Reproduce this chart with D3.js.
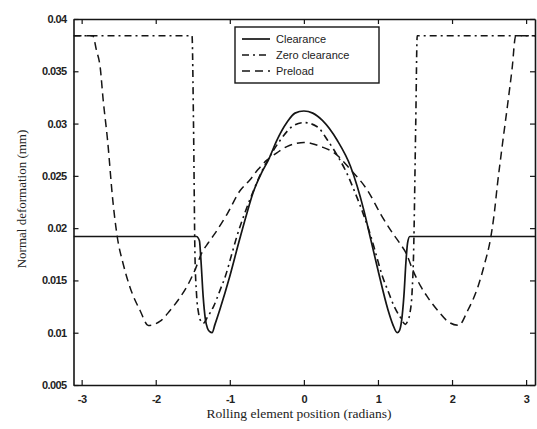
<!DOCTYPE html>
<html>
<head>
<meta charset="utf-8">
<script src="https://cdn.jsdelivr.net/npm/d3@7"></script>
<style>
  body { margin: 0; background: #fff; }
  svg { display: block; }
</style>
</head>
<body>
<div id="chart"></div>
<script>
// tick values and labels
const xTicks = [-3, -2, -1, 0, 1, 2, 3];
const xTickLabels = ["-3", "-2", "-1", "0", "1", "2", "3"];
const yTicks = [0.005, 0.01, 0.015, 0.02, 0.025, 0.03, 0.035, 0.04];
const yTickLabels = ["0.005", "0.01", "0.015", "0.02", "0.025", "0.03", "0.035", "0.04"];

// Clearance (solid)
const clearanceX = [-3.11, -1.45, -1.41, -1.39, -1.36, -1.33, -1.30, -1.27, -1.24, -1.20, -1.135, -1.0, -0.88, -0.77, -0.685, -0.57, -0.48, -0.365, -0.23, -0.12, 0,
  0.12, 0.25, 0.45, 0.63, 0.81, 0.90, 1.0, 1.135, 1.20, 1.26, 1.29, 1.32, 1.35, 1.38, 1.40, 1.43, 3.12];
const clearanceY = [0.0192, 0.0192, 0.0188, 0.0170, 0.0135, 0.0113, 0.0104, 0.0101, 0.0100, 0.0108, 0.0122, 0.0154, 0.0186, 0.0214, 0.0234, 0.0253, 0.0265, 0.0284, 0.0301, 0.0310, 0.0312,
  0.0310, 0.0303, 0.0284, 0.0259, 0.0217, 0.0190, 0.0160, 0.0122, 0.0108, 0.0100, 0.0102, 0.0112, 0.0135, 0.0170, 0.0186, 0.0192, 0.0192];

// Zero clearance (dash-dot)
const zeroX = [-3.11, -1.51, -1.49, -1.47, -1.45, -1.42, -1.39, -1.36, -1.30, -1.22, -1.13, -1.06, -0.97, -0.905, -0.815, -0.685, -0.57, -0.48, -0.32, -0.16, 0,
  0.18, 0.32, 0.48, 0.57, 0.685, 0.815, 0.905, 0.97, 1.06, 1.13, 1.22, 1.30, 1.37, 1.40, 1.43, 1.46, 1.48, 1.51, 1.53, 3.12];
const zeroY = [0.0384, 0.0384, 0.0300, 0.0173, 0.0138, 0.0118, 0.0111, 0.0109, 0.0115, 0.0125, 0.0141, 0.0154, 0.0176, 0.0192, 0.0211, 0.0235, 0.0254, 0.0266, 0.0284, 0.0297, 0.0301,
  0.0297, 0.0284, 0.0266, 0.0254, 0.0235, 0.0211, 0.0192, 0.0176, 0.0154, 0.0141, 0.0125, 0.0115, 0.0108, 0.0111, 0.0118, 0.0138, 0.0173, 0.0300, 0.0384, 0.0384];

// Preload (dashed)
const preloadX = [-3.11, -2.85, -2.80, -2.75, -2.71, -2.65, -2.58, -2.52, -2.44, -2.35, -2.21, -2.10, -1.94, -1.81, -1.67, -1.58, -1.47, -1.38, -1.29, -1.20, -1.04, -0.86, -0.73, -0.62, -0.50, -0.365, -0.23, -0.10, 0,
  0.10, 0.23, 0.41, 0.63, 0.86, 1.04, 1.20, 1.29, 1.38, 1.47, 1.58, 1.67, 1.81, 1.94, 2.09, 2.21, 2.35, 2.44, 2.52, 2.57, 2.61, 2.68, 2.75, 2.81, 2.86, 3.12];
const preloadY = [0.0384, 0.0384, 0.0370, 0.0354, 0.0323, 0.0284, 0.0227, 0.0192, 0.0166, 0.0144, 0.0121, 0.0107, 0.0111, 0.0121, 0.0134, 0.0144, 0.0160, 0.0176, 0.0186, 0.0195, 0.0213, 0.0236, 0.0246, 0.0256, 0.0265, 0.0272, 0.0278, 0.0281, 0.0282,
  0.0281, 0.0278, 0.0272, 0.0256, 0.0236, 0.0213, 0.0195, 0.0186, 0.0176, 0.0160, 0.0144, 0.0134, 0.0121, 0.0111, 0.0107, 0.0121, 0.0144, 0.0166, 0.0190, 0.0214, 0.0240, 0.0280, 0.0318, 0.0352, 0.0384, 0.0384];

const seriesNames = ["Clearance", "Zero clearance", "Preload"];

const width = 537, height = 429;
const ink = "#151515";

const svg = d3.select("#chart").append("svg")
  .attr("width", width)
  .attr("height", height);

svg.append("rect").attr("width", width).attr("height", height).attr("fill", "#fff");

const x = d3.scaleLinear().domain([-3.11, 3.12]).range([73.5, 535]);
const y = d3.scaleLinear().domain([0.005, 0.04]).range([385, 19]);

const series = [
  { name: seriesNames[0], xs: clearanceX, ys: clearanceY, dash: null, w: 1.7 },
  { name: seriesNames[1], xs: zeroX, ys: zeroY, dash: "7,4,2,4", w: 1.6 },
  { name: seriesNames[2], xs: preloadX, ys: preloadY, dash: "8,5", w: 1.5 }
];

const line = d3.line()
  .x(d => x(d[0]))
  .y(d => y(d[1]))
  .curve(d3.curveMonotoneX);

svg.append("clipPath").attr("id", "clip")
  .append("rect")
  .attr("x", x.range()[0]).attr("y", y.range()[1])
  .attr("width", x.range()[1] - x.range()[0])
  .attr("height", y.range()[0] - y.range()[1]);

const plot = svg.append("g").attr("clip-path", "url(#clip)");
series.forEach(s => {
  plot.append("path")
    .datum(s.xs.map((v, i) => [v, s.ys[i]]))
    .attr("d", line)
    .attr("fill", "none")
    .attr("stroke", ink)
    .attr("stroke-width", s.w)
    .attr("stroke-dasharray", s.dash);
});

// axes, ticks inward like matlab
function styleAxis(g) {
  g.select(".domain").attr("stroke", ink).attr("stroke-width", 1.6);
  g.selectAll(".tick line").attr("stroke", ink).attr("stroke-width", 1.2);
  g.selectAll(".tick text")
    .attr("fill", "#222")
    .attr("font-family", "'Liberation Sans', Arial, sans-serif")
    .attr("font-size", 11)
    .attr("font-weight", "bold")
    .attr("letter-spacing", "-0.6");
}

svg.append("g")
  .attr("transform", `translate(0,${y.range()[0]})`)
  .call(d3.axisBottom(x).tickValues(xTicks).tickSize(-5).tickSizeOuter(0).tickPadding(10)
    .tickFormat((d, i) => xTickLabels[i]))
  .call(styleAxis);

svg.append("g")
  .attr("transform", `translate(0,${y.range()[1]})`)
  .call(d3.axisTop(x).tickValues(xTicks).tickSize(-5).tickSizeOuter(0).tickFormat(""))
  .call(styleAxis);

svg.append("g")
  .attr("transform", `translate(${x.range()[0]},0)`)
  .call(d3.axisLeft(y).tickValues(yTicks).tickSize(-5).tickSizeOuter(0).tickPadding(7)
    .tickFormat((d, i) => yTickLabels[i]))
  .call(styleAxis);

svg.append("g")
  .attr("transform", `translate(${x.range()[1]},0)`)
  .call(d3.axisRight(y).tickValues(yTicks).tickSize(-5).tickSizeOuter(0).tickFormat(""))
  .call(styleAxis);

// axis titles
svg.append("text")
  .attr("x", 299).attr("y", 418)
  .attr("text-anchor", "middle")
  .attr("font-family", "'Liberation Serif', 'Times New Roman', serif")
  .attr("font-size", 13.5)
  .attr("fill", "#222")
  .text("Rolling element position (radians)");

svg.append("text")
  .attr("transform", "translate(26,199) rotate(-90)")
  .attr("text-anchor", "middle")
  .attr("font-family", "'Liberation Serif', 'Times New Roman', serif")
  .attr("font-size", 13)
  .attr("fill", "#222")
  .text("Normal deformation (mm)");

// legend
const legend = svg.append("g");
legend.append("rect")
  .attr("x", 235).attr("y", 27).attr("width", 144).attr("height", 56)
  .attr("fill", "#fff").attr("stroke", ink).attr("stroke-width", 1.4);

series.forEach((s, i) => {
  const ly = 39 + i * 16;
  legend.append("line")
    .attr("x1", 242).attr("x2", 270).attr("y1", ly).attr("y2", ly)
    .attr("stroke", ink).attr("stroke-width", s.w)
    .attr("stroke-dasharray", s.dash);
  legend.append("text")
    .attr("x", 276).attr("y", ly + 4)
    .attr("font-family", "'Liberation Sans', Arial, sans-serif")
    .attr("font-size", 11)
    .attr("fill", "#222")
    .text(s.name);
});
</script>
</body>
</html>
